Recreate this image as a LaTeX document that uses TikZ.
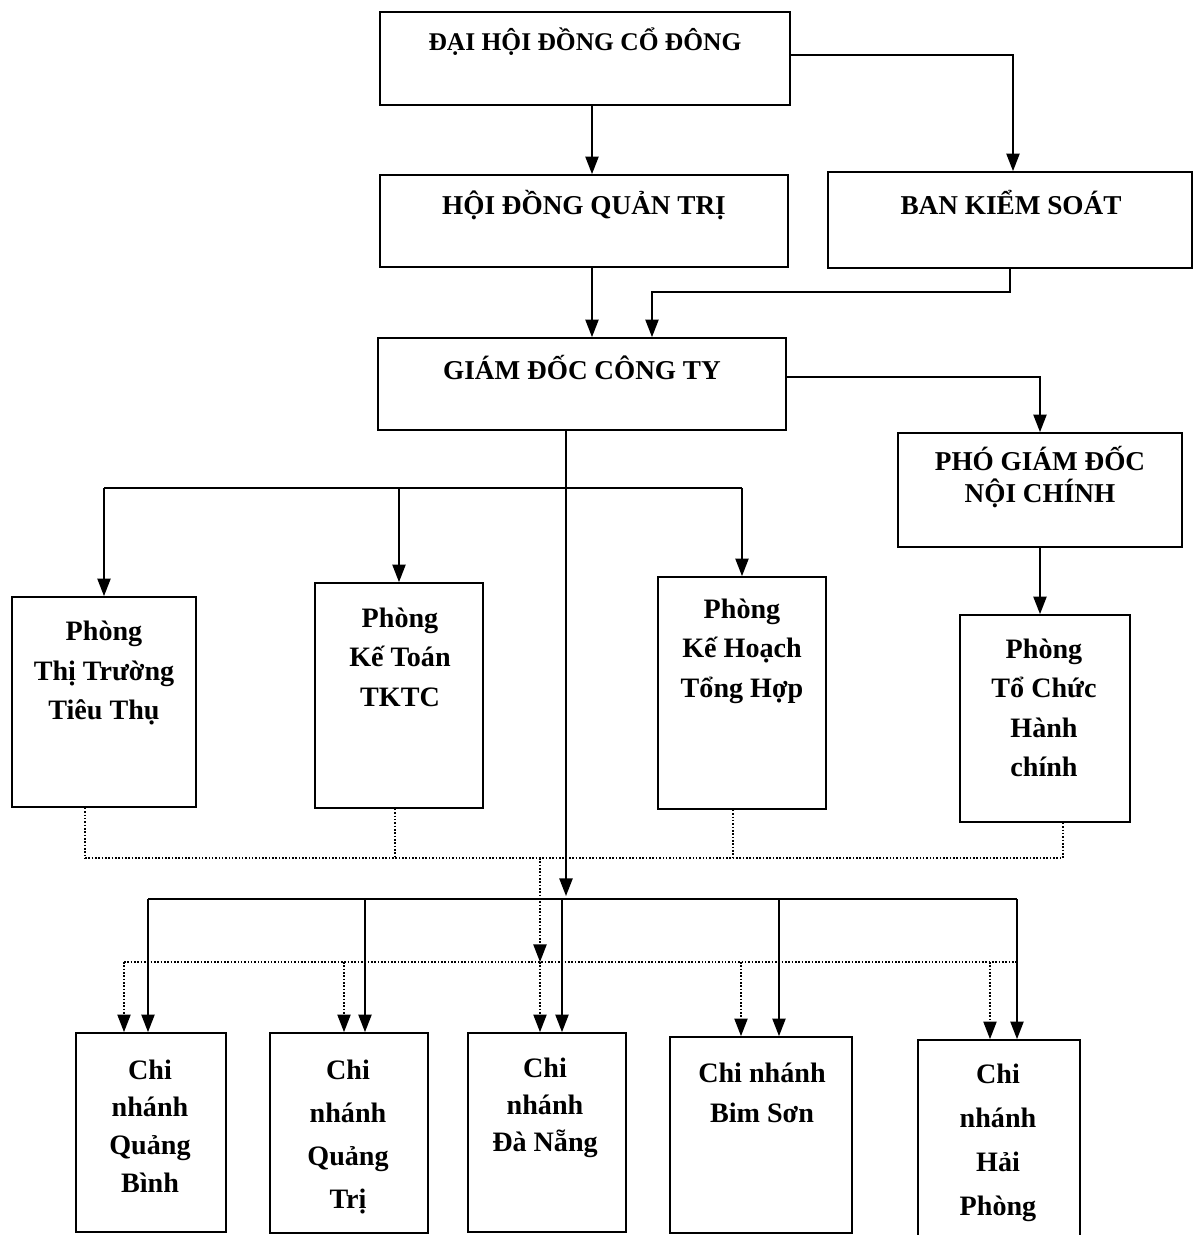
\documentclass[tikz,border=0pt]{standalone}
\usepackage{fontspec}
\setmainfont{Liberation Serif}
\usetikzlibrary{arrows.meta, fit}

\begin{document}
\begin{tikzpicture}[
  x=0.02cm, y=-0.02cm,
  >={Triangle[length=10pt, width=7.5pt]},
  box/.style={draw, line width=1pt, inner sep=0pt},
  txt/.style={font=\fontsize{16}{22.5}\selectfont\bfseries, align=center, inner sep=0pt},
  arr/.style={->, line width=1pt},
  dot/.style={densely dotted, line width=0.9pt}
]
\useasboundingbox (0,0) rectangle (1194,1235);

% Top management
\node[box, fit={(380,12) (790,105)}] (dh) {};
\node[txt, font=\fontsize{14.5}{18}\selectfont\bfseries] (dhT) at (585,42) {ĐẠI HỘI ĐỒNG CỔ ĐÔNG};
\node[box, fit={(380,175) (788,267)}] (hd) {};
\node[txt, font=\fontsize{15.5}{18}\selectfont\bfseries] (hdT) at (584,205) {HỘI ĐỒNG QUẢN TRỊ};
\node[box, fit={(828,172) (1192,268)}] (bks) {};
\node[txt, font=\fontsize{15.5}{18}\selectfont\bfseries] (bksT) at (1011,202) {BAN KIỂM SOÁT};
\node[box, fit={(378,338) (786,430)}] (gd) {};
\node[txt, font=\fontsize{15.5}{18}\selectfont\bfseries] (gdT) at (582,367) {GIÁM ĐỐC CÔNG TY};
\node[box, fit={(898,433) (1182,547)}] (pgd) {};
\node[txt, font=\fontsize{15.5}{18.5}\selectfont\bfseries] (pgdT) at (1040,477) {PHÓ GIÁM ĐỐC\\NỘI CHÍNH};

% Departments
\node[box, fit={(12,597) (196,807)}] (ptt) {};
\node[txt] (pttT) at (104,673) {Phòng\\Thị Trường\\Tiêu Thụ};
\node[box, fit={(315,583) (483,808)}] (pkt) {};
\node[txt] (pktT) at (400,657) {Phòng\\Kế Toán\\TKTC};
\node[box, fit={(658,577) (826,809)}] (pkh) {};
\node[txt] (pkhT) at (742,651) {Phòng\\Kế Hoạch\\Tổng Hợp};
\node[box, fit={(960,615) (1130,822)}] (ptc) {};
\node[txt] (ptcT) at (1044,708) {Phòng\\Tổ Chức\\Hành\\chính};

% Branches
\node[box, fit={(76,1033) (226,1232)}] (qb) {};
\node[txt, font=\fontsize{16}{21.5}\selectfont\bfseries] (qbT) at (150,1126) {Chi\\nhánh\\Quảng\\Bình};
\node[box, fit={(270,1033) (428,1233)}] (qt) {};
\node[txt, font=\fontsize{16}{24.5}\selectfont\bfseries] (qtT) at (348,1137) {Chi\\nhánh\\Quảng\\Trị};
\node[box, fit={(468,1033) (626,1232)}] (dn) {};
\node[txt, font=\fontsize{16}{21}\selectfont\bfseries] (dnT) at (545,1108) {Chi\\nhánh\\Đà Nẵng};
\node[box, fit={(670,1037) (852,1233)}] (bs) {};
\node[txt] (bsT) at (762,1093) {Chi nhánh\\Bim Sơn};
\node[box, fit={(918,1040) (1080,1250)}] (hp) {};
\node[txt, font=\fontsize{16}{25}\selectfont\bfseries] (hpT) at (998,1143) {Chi\\nhánh\\Hải\\Phòng};

% Upper connectors
\draw[arr] (592,0 |- dh.south) -- (592,0 |- hd.north);
\draw[arr] (dh.east |- 0,55) -| (1013,0 |- bks.north);
\draw[arr] (592,0 |- hd.south) -- (592,0 |- gd.north);
\draw[arr] (bks.south) -- ++(0,23) -| (652,0 |- gd.north);
\draw[arr] (gd.east |- 0,377) -| (pgd.north);
\draw[arr] (pgd.south) -- (pgd.south |- ptc.north);

% Director to departments
\draw[line width=1pt] (ptt.north |- 0,488) -- (pkh.north |- 0,488);
\foreach \d in {ptt, pkt, pkh}
  \draw[arr] (\d.north |- 0,488) -- (\d.north);

% Director to branches
\draw[arr] (566,0 |- gd.south) -- (566,896);
\draw[line width=1pt] (148,899) -- (1017,899);
\foreach \x/\b in {148/qb, 365/qt, 562/dn, 779/bs, 1017/hp}
  \draw[arr] (\x,899) -- (\x,0 |- \b.north);

% Dotted links from departments to branches
\foreach \x/\d in {85/ptt, 395/pkt, 733/pkh, 1063/ptc}
  \draw[dot] (\x,0 |- \d.south) -- (\x,858);
\draw[dot] (85,858) -- (1063,858);
\draw[dot, ->] (540,858) -- (540,962);
\draw[dot] (124,962) -- (1017,962);
\foreach \x/\b in {124/qb, 344/qt, 540/dn, 741/bs, 990/hp}
  \draw[dot, ->] (\x,962) -- (\x,0 |- \b.north);

\end{tikzpicture}
\end{document}
